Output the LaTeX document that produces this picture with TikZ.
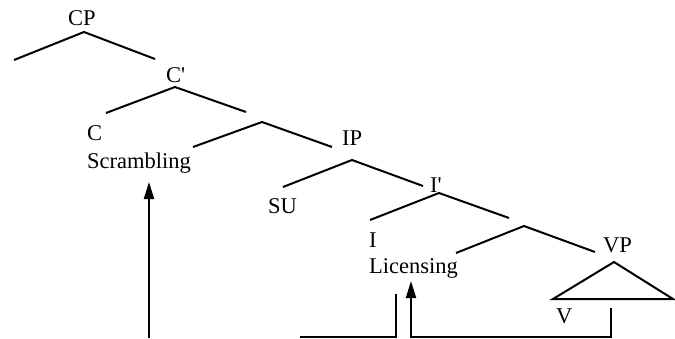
\documentclass[tikz,border=0pt]{standalone}
\usepackage{fontspec}
\setmainfont{Liberation Serif}
\usetikzlibrary{arrows.meta}
\begin{document}
\begin{tikzpicture}[x=1pt,y=-1pt,
  br/.style={line width=2pt},
  lab/.style={anchor=base west,inner sep=0pt,font=\fontsize{22.5}{26}\selectfont},
  arr/.style={line width=2pt,-{Triangle[length=17pt,width=10pt]}}]
\useasboundingbox (0,0) rectangle (675,338);
% labels
\node[lab] (cp) at (68,25) {CP};
\node[lab] (cbar) at (166,82) {C\textquotesingle};
\node[lab] (c) at (87,140) {C};
\node[lab] (scr) at (87,168) {Scrambling};
\node[lab] (ip) at (342,145) {IP};
\node[lab] (su) at (268,213) {SU};
\node[lab] (ibar) at (430,192) {I\textquotesingle};
\node[lab] (i) at (369,247) {I};
\node[lab] (lic) at (369,273) {Licensing};
\node[lab] (vp) at (603,252) {VP};
\node[lab] (v) at (556,323) {V};
% branch points
\coordinate (a1) at (84,32);  \coordinate (a1l) at (14,60);  \coordinate (a1r) at (155,59);
\coordinate (a2) at (175,87); \coordinate (a2l) at (106,113); \coordinate (a2r) at (246,112);
\coordinate (a3) at (262,122); \coordinate (a3l) at (193,147); \coordinate (a3r) at (332,147);
\coordinate (a4) at (352,160); \coordinate (a4l) at (283,187); \coordinate (a4r) at (423,186);
\coordinate (a5) at (439,193); \coordinate (a5l) at (370,220); \coordinate (a5r) at (509,218);
\coordinate (a6) at (524,226); \coordinate (a6l) at (456,253); \coordinate (a6r) at (595,252);
\foreach \n in {1,...,6} \draw[br] (a\n l) -- (a\n) -- (a\n r);
% VP triangle
\coordinate (t) at (614,262); \coordinate (tl) at (553,299); \coordinate (tr) at (673,299);
\draw[br,line join=miter] (tl) -- (t) -- (tr) -- cycle;
% arrows
\coordinate (s0) at (149,338); \coordinate (s1) at (149,182);
\draw[arr] (s0) -- (s1);
\coordinate (v0) at (611,308); \coordinate (v1) at (611,336.5); \coordinate (l0) at (411,336.5); \coordinate (l1) at (411,281);
\draw[arr] (v0) -- (v1) -- (l0) -- (l1);
\coordinate (k0) at (300,336.5); \coordinate (k1) at (396,336.5); \coordinate (k2) at (396,294);
\draw[br] (k0) -- (k1) -- (k2);
\end{tikzpicture}
\end{document}
